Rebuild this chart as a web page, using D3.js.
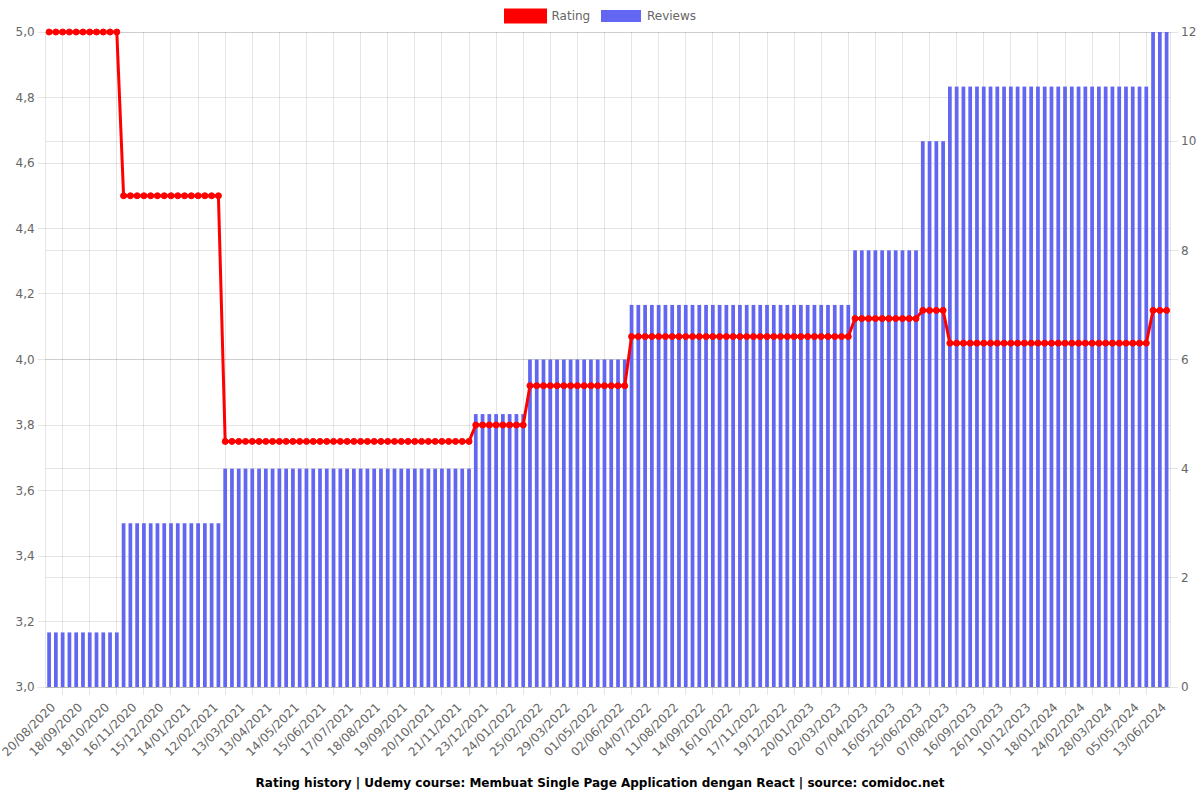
<!DOCTYPE html>
<html>
<head>
<meta charset="utf-8">
<script src="https://cdn.jsdelivr.net/npm/d3@7"></script>
<style>
html,body{margin:0;padding:0;background:#fff;}
svg{display:block;}
</style>
</head>
<body>
<svg id="chart" width="1200" height="800"></svg>
<script>
// Visible x-axis tick labels (every 4th category, starting at the first)
const tickLabels = [
  "20/08/2020","18/09/2020","18/10/2020","16/11/2020","15/12/2020",
  "14/01/2021","12/02/2021","13/03/2021","13/04/2021","14/05/2021","15/06/2021",
  "17/07/2021","18/08/2021","19/09/2021","20/10/2021","21/11/2021","23/12/2021",
  "24/01/2022","25/02/2022","29/03/2022","01/05/2022","02/06/2022","04/07/2022",
  "11/08/2022","14/09/2022","16/10/2022","17/11/2022","19/12/2022",
  "20/01/2023","02/03/2023","07/04/2023","16/05/2023","25/06/2023","07/08/2023",
  "16/09/2023","26/10/2023","10/12/2023",
  "18/01/2024","24/02/2024","28/03/2024","05/05/2024","13/06/2024"
];

// Reviews count per category (166 categories)
const reviews = [
  1,1,1,1,1,1,1,1,1,1,1,
  3,3,3,3,3,3,3,3,3,3,3,3,3,3,3,
  4,4,4,4,4,4,4,4,4,4, 4,4,4,4,4,4,4,4,4,4, 4,4,4,4,4,4,4,4,4,4, 4,4,4,4,4,4,4,
  5,5,5,5,5,5,5,5,
  6,6,6,6,6,6,6,6,6,6,6,6,6,6,6,
  7,7,7,7,7,7,7,7,7,7, 7,7,7,7,7,7,7,7,7,7, 7,7,7,7,7,7,7,7,7,7, 7,7,7,
  8,8,8,8,8,8,8,8,8,8,
  10,10,10,10,
  11,11,11,11,11,11,11,11,11,11, 11,11,11,11,11,11,11,11,11,11, 11,11,11,11,11,11,11,11,11,11,
  12,12,12
];

// Rating per category (166 categories)
const rating = [
  5.0,5.0,5.0,5.0,5.0,5.0,5.0,5.0,5.0,5.0,5.0,
  4.5,4.5,4.5,4.5,4.5,4.5,4.5,4.5,4.5,4.5,4.5,4.5,4.5,4.5,4.5,
  3.75,3.75,3.75,3.75,3.75,3.75,3.75,3.75,3.75,3.75,
  3.75,3.75,3.75,3.75,3.75,3.75,3.75,3.75,3.75,3.75,
  3.75,3.75,3.75,3.75,3.75,3.75,3.75,3.75,3.75,3.75,
  3.75,3.75,3.75,3.75,3.75,3.75,3.75,
  3.8,3.8,3.8,3.8,3.8,3.8,3.8,3.8,
  3.92,3.92,3.92,3.92,3.92,3.92,3.92,3.92,3.92,3.92,3.92,3.92,3.92,3.92,3.92,
  4.07,4.07,4.07,4.07,4.07,4.07,4.07,4.07,4.07,4.07,
  4.07,4.07,4.07,4.07,4.07,4.07,4.07,4.07,4.07,4.07,
  4.07,4.07,4.07,4.07,4.07,4.07,4.07,4.07,4.07,4.07,
  4.07,4.07,4.07,
  4.125,4.125,4.125,4.125,4.125,4.125,4.125,4.125,4.125,4.125,
  4.15,4.15,4.15,4.15,
  4.05,4.05,4.05,4.05,4.05,4.05,4.05,4.05,4.05,4.05,
  4.05,4.05,4.05,4.05,4.05,4.05,4.05,4.05,4.05,4.05,
  4.05,4.05,4.05,4.05,4.05,4.05,4.05,4.05,4.05,4.05,
  4.15,4.15,4.15
];

const labelStep = 4;
const seriesNames = ["Rating", "Reviews"];
const titleText = "Rating history | Udemy course: Membuat Single Page Application dengan React | source: comidoc.net";

(function () {
  // ---- layout ----
  const pL = 45.7, pR = 1170, pT = 32, pB = 687;
  const FONT = '"DejaVu Sans", Verdana, sans-serif';
  const GRID = "rgba(0,0,0,0.1)";
  const TEXT = "#666";
  const RED = "#ff0000";
  const BLUE = "#6366f1";
  const al = p => Math.round(p - 0.5) + 0.5;

  const svg = d3.select("#chart");
  const idx = d3.range(reviews.length);
  const x = d3.scaleBand().domain(idx).range([pL, pR]).paddingInner(0).paddingOuter(0);
  const bw = x.bandwidth();
  const cx = i => x(i) + bw / 2;
  const yL = d3.scaleLinear().domain([3, 5]).range([pB, pT]);
  const yR = d3.scaleLinear().domain([0, 12]).range([pB, pT]);
  const fmt = v => d3.format(".1f")(v).replace(".", ",");

  // ---- grid ----
  const gGrid = svg.append("g").attr("stroke", GRID).attr("stroke-width", 1);
  yL.ticks(10).forEach(t => {
    gGrid.append("line").attr("x1", pL - 8).attr("x2", pR)
      .attr("y1", al(yL(t))).attr("y2", al(yL(t)));
  });
  yR.ticks(6).forEach(t => {
    gGrid.append("line").attr("x1", pL).attr("x2", pR + 8)
      .attr("y1", al(yR(t))).attr("y2", al(yR(t)));
  });
  const labelIdx = tickLabels.map((d, k) => k * labelStep);
  labelIdx.forEach((li, k) => {
    if (k === 0) return;
    const gx = (cx(li) + cx(labelIdx[k - 1])) / 2;
    gGrid.append("line").attr("x1", al(gx)).attr("x2", al(gx))
      .attr("y1", pT).attr("y2", pB + 8);
  });
  gGrid.append("line").attr("x1", al(pL)).attr("x2", al(pL)).attr("y1", pT).attr("y2", pB);
  gGrid.append("line").attr("x1", al(pR)).attr("x2", al(pR)).attr("y1", pT).attr("y2", pB);
  gGrid.append("line").attr("x1", pL).attr("x2", pR).attr("y1", al(pB)).attr("y2", al(pB));

  // ---- axis labels ----
  const gYL = svg.append("g").attr("font-family", FONT).attr("font-size", 12).attr("fill", TEXT);
  yL.ticks(10).forEach(t => {
    gYL.append("text").attr("x", pL - 11).attr("y", yL(t)).attr("dy", "0.35em")
      .attr("text-anchor", "end").text(fmt(t));
  });
  const gYR = svg.append("g").attr("font-family", FONT).attr("font-size", 12).attr("fill", TEXT);
  yR.ticks(6).forEach(t => {
    gYR.append("text").attr("x", pR + 11).attr("y", yR(t)).attr("dy", "0.35em")
      .attr("text-anchor", "start").text(d3.format("d")(t));
  });
  const gX = svg.append("g").attr("font-family", FONT).attr("font-size", 12).attr("fill", TEXT);
  tickLabels.forEach((lab, k) => {
    const px = cx(labelIdx[k]) + 4, py = 705;
    gX.append("text").attr("transform", `translate(${px},${py}) rotate(-45)`)
      .attr("dy", "0.35em").attr("text-anchor", "end").text(lab);
  });

  // ---- bars (Reviews, right axis) ----
  const barW = bw * 0.55;
  svg.append("g").selectAll("rect").data(idx).join("rect")
    .attr("x", i => cx(i) - barW / 2)
    .attr("width", barW)
    .attr("y", i => yR(reviews[i]))
    .attr("height", i => pB - yR(reviews[i]))
    .attr("fill", BLUE);

  // ---- line (Rating, left axis) ----
  const line = d3.line().x(i => cx(i)).y(i => yL(rating[i]));
  svg.append("path").datum(idx).attr("d", line)
    .attr("fill", "none").attr("stroke", RED).attr("stroke-width", 3)
    .attr("stroke-linejoin", "miter");
  svg.append("g").selectAll("circle").data(idx).join("circle")
    .attr("cx", i => cx(i)).attr("cy", i => yL(rating[i])).attr("r", 3)
    .attr("fill", RED).attr("stroke", RED).attr("stroke-width", 1);

  // ---- legend ----
  const gLeg = svg.append("g").attr("font-family", FONT).attr("font-size", 12).attr("fill", TEXT);
  gLeg.append("rect").attr("x", 505.5).attr("y", 10).attr("width", 40).attr("height", 12)
    .attr("fill", RED).attr("stroke", RED).attr("stroke-width", 3);
  gLeg.append("text").attr("x", 551.5).attr("y", 16).attr("dy", "0.35em").text(seriesNames[0]);
  gLeg.append("rect").attr("x", 601).attr("y", 10).attr("width", 40).attr("height", 12)
    .attr("fill", BLUE);
  gLeg.append("text").attr("x", 647).attr("y", 16).attr("dy", "0.35em").text(seriesNames[1]);

  // ---- title (bottom) ----
  svg.append("text").attr("x", 600).attr("y", 783).attr("dy", "0.35em")
    .attr("text-anchor", "middle").attr("font-family", FONT).attr("font-size", 12)
    .attr("font-weight", "bold").attr("fill", "#000").text(titleText);
})();
</script>
</body>
</html>
